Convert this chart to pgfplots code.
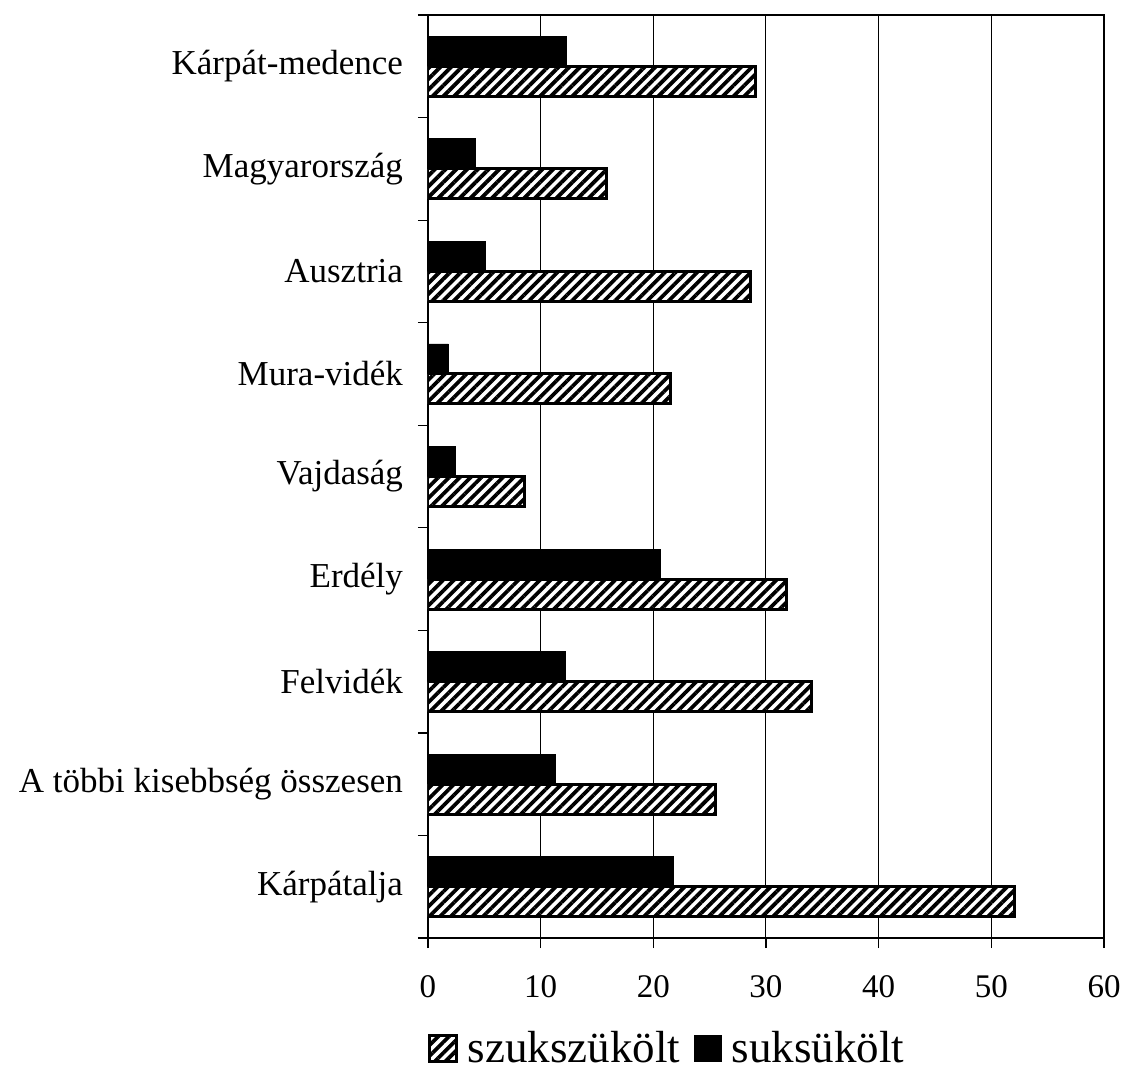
\documentclass[border=0pt]{standalone}
\usepackage{fontspec}
\setmainfont{Liberation Serif}
\usepackage{pgfplots}
\pgfplotsset{compat=1.18}
\usetikzlibrary{patterns.meta}

\begin{document}
\begin{tikzpicture}
\useasboundingbox (-214pt,-69.5pt) rectangle (347pt,469pt);
\begin{axis}[
    scale only axis,
    width=338pt, height=461.5pt,
    xbar, bar width=15pt,
    xmin=0, xmax=60, ymin=-0.5, ymax=8.5,
    xtick={0,10,...,60},
    ytick={-0.5,0.5,...,8.5}, yticklabels={},
    extra y ticks={0,1,2,3,4,5,6,7,8},
    extra y tick labels={Kárpátalja, A többi kisebbség összesen, Felvidék, Erdély, Vajdaság, Mura-vidék, Ausztria, Magyarország, Kárpát-medence},
    extra y tick style={major tick length=0pt, yticklabel style={xshift=-9pt}},
    tick pos=left, tick align=outside, major tick length=5pt,
    tick style={black, line width=0.6pt},
    xmajorgrids, major grid style={black, line width=0.5pt},
    axis line style={line width=0.6pt},
    /pgf/number format/assume math mode=true,
    xticklabel style={font=\fontsize{16.5}{17}\selectfont, yshift=-10pt},
    yticklabel style={font=\fontsize{17.5}{18}\selectfont},
    legend columns=2,
    legend image code/.code={\draw[#1] (0pt,-6.5pt) rectangle (13.5pt,6.5pt);},
    legend style={draw=none, at={(-0.010,-0.1200)}, anchor=west,
      font=\fontsize{22.5}{24}\selectfont, nodes={inner sep=2pt},
      /tikz/every odd column/.append style={column sep=3pt},
      /tikz/every even column/.append style={column sep=5pt}},
  ]
  % szukszükölt (hatched)
  \addplot[draw=black, line width=1.5pt, fill=white,
    postaction={pattern={Lines[angle=45,distance=3.8pt,line width=1.9pt]}},
    bar shift=-7.5pt] coordinates {
      (52.1,0) (25.5,1) (34.0,2) (31.8,3) (8.6,4)
      (21.5,5) (28.6,6) (15.8,7) (29.1,8)
    };
  \addlegendentry{szukszükölt}
  % suksükölt (black)
  \addplot[draw=black, fill=black, bar shift=7.5pt] coordinates {
      (21.8,0) (11.3,1) (12.2,2) (20.6,3) (2.4,4)
      (1.8,5) (5.1,6) (4.2,7) (12.3,8)
    };
  \addlegendentry{suksükölt}
\end{axis}
\end{tikzpicture}
\end{document}
